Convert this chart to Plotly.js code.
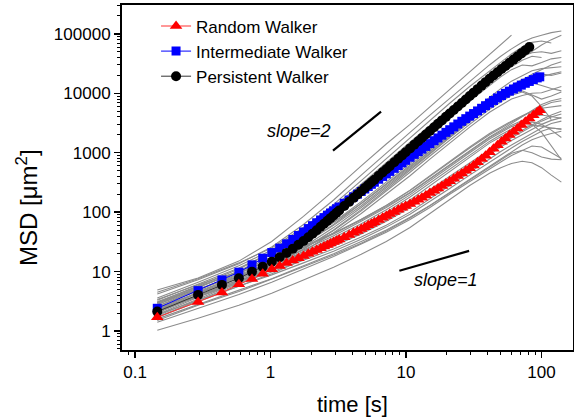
<!DOCTYPE html>
<html>
<head>
<meta charset="utf-8">
<script src="https://cdn.plot.ly/plotly-3.0.1.min.js"></script>
<style>html,body{margin:0;padding:0;background:#fff;}#chart{width:574px;height:418px;}</style>
</head>
<body>
<div id="chart"></div>
<script>
// ---- marker series (time in s, MSD in um^2) ----
const tMark = [0.146,0.292,0.438,0.584,0.73,0.876,1.022,1.168,1.314,1.46,1.606,1.752,
1.9,2.04,2.19,2.34,2.48,2.63,2.77,2.92,3.07,3.21,
3.5,3.8,4.1,4.38,4.67,4.96,5.26,5.55,5.84,
6.28,6.72,7.15,7.59,8.18,8.76,9.34,9.93,
10.7,11.5,12.3,13.1,14.0,15.0,16.1,17.2,18.4,19.7,21.0,
22.5,24.1,25.8,27.6,29.5,31.5,33.7,36.1,38.6,41.3,44.2,47.3,50.6,54.1,57.9,62.0,66.3,70.9,75.9,81.2,86.9,92.9,97.0];

const randomMSD = [1.70,3.08,4.43,6.1,7.5,9.2,10.9,12.4,13.9,15.3,16.8,18.3,
19.9,21.5,23.1,24.8,26.4,28.1,29.7,31.3,33.0,34.6,
37.9,41.3,44.8,48.1,51.9,55.8,59.9,63.9,67.9,
74.1,80.3,86.4,92.7,101,110,119,127,
137,149,162,175,191,209,230,251,276,303,332,
366,404,447,495,550,612,690,784,893,1021,1167,1334,1525,1737,1981,2258,2568,2916,3316,3763,4262,4814,5207];

const intermediateMSD = [2.41,4.78,7.24,9.77,12.97,16.8,20.9,24.8,29.3,34.7,40.4,46.4,
52.9,59.2,66.3,73.8,80.9,88.9,96.6,105,114,122,
141,160,181,201,223,245,270,294,319,
358,399,440,485,546,610,675,745,
838,939,1043,1151,1277,1423,1594,1772,1974,2202,2439,
2724,3041,3380,3740,4133,4560,5046,5594,6185,6846,7578,8361,9158,9990,10874,11804,12751,13728,14747,15829,16997,18170,18931];

const persistentMSD = [2.12,4.05,5.97,7.74,9.89,12.1,14.6,17.4,20.6,24.2,28.2,32.7,
37.8,43.2,49.6,56.6,63.6,71.5,79.3,88.1,97.4,106.5,
126.6,149,174,198,225,254,286,318,352,
408,467,528,595,692,793,902,1019,
1183,1367,1564,1774,2026,2326,2680,3059,3501,4013,4560,
5235,6006,6883,7877,8999,10261,11744,13476,15409,17583,20002,22675,25604,28882,32634,36909,41648,46996,53129,59993];

// ---- individual cell trajectories (gray) ----
const grayTime = [0.146,0.292,0.584,1.02,1.75,2.92,4.67,7.15,10.7,15.0,21.0,29.5,41.3,50,60,72,85,100,118,140];
const individualMSD = [
[4.9,7.8,15,32,85,230,600,1400,3000,5900,11500,23000,45000,66000,95000],
[4.2,7.3,13.5,26,62,160,420,1000,2200,4300,8300,16000,30000,42000,56000,72000,85000,95000,105000,112000],
[3.6,6.6,12.5,23,52,135,340,800,1800,3500,6800,13000,24000,34000,46000,60000,72000,76000,70000],
[3.0,5.8,11,21,47,118,290,680,1500,2900,5600,10500,19000,26000,34000,42000,48000,50000,47000,52000],
[2.8,5.4,10.2,19.5,42,100,240,560,1250,2400,4500,8500,15500,21000,28000,36000,42000,40000],
[3.3,6.2,11.5,21,44,98,230,520,1100,2100,4000,7500,13500,19000,25000,30000,29000,33000,38000,40000],
[4.5,7.6,14,25,55,125,290,650,1400,2600,4800,8800,16000,22000,30000,40000,52000,65000,80000,95000],
[2.2,4.3,8.0,14.5,29,62,140,300,620,1150,2100,3800,7000,9800,13500,17000,19500,21000,20000,22000],
[2.0,3.9,7.3,13,26,55,120,260,540,1000,1850,3400,6300,8800,12000,14500,15000,13500,12000,11000],
[2.6,5.0,9.2,16.5,32,68,150,320,660,1250,2400,4500,8500,12000,16000,20000,24000,26000,27000,28000],
[1.8,3.5,6.6,12,24,50,110,240,500,950,1800,3300,6000,8000,10000,11000,9500,8000,9000,10500],
[2.3,4.5,8.4,15,29,60,128,270,560,1050,1950,3600,6500,9000,12500,16500,21000,25000,30000,34000],
[1.9,3.7,6.9,12.5,24,49,105,225,470,880,1650,3000,5400,7200,9300,10500,9000,6000,3600],
[2.9,5.5,10,17.5,33,67,140,290,580,1050,1900,3400,6000,8000,10000,12500,16000,19000,21000,23000],
[1.7,3.3,6.2,11.3,22,45,95,200,410,780,1450,2700,4800,6300,8000,9200,10000,10200,11500,13000],
[1.03,1.64,2.7,4.3,7.2,11.8,19.5,32,55,95,165,280,450,560,660,720,680,560,420,320],
[1.4,2.4,4.1,6.6,11,18,29,46,75,120,200,330,540,700,900,1100,1300,1250,1000,800],
[1.6,2.8,4.8,7.6,12.5,20,32,50,82,130,215,360,600,800,1050,1350,1650,1900,2100,2300],
[1.5,2.7,4.6,7.4,12,19,30,48,80,128,210,350,580,760,980,1100,1000,850,780,760],
[1.9,3.3,5.6,8.8,14,22,35,56,92,150,250,420,700,920,1200,1550,1900,2300,2600,2500],
[2.2,3.8,6.3,9.8,15.5,24,38,60,100,165,280,470,800,1050,1350,1700,2100,2600,3100,3400],
[2.5,4.3,7.1,11,17.5,27,43,70,118,195,330,560,950,1250,1600,2000,2500,3000,3500,3900],
[2.3,4.0,6.7,10.5,17,27,44,73,125,210,360,620,1050,1380,1780,2250,2800,3400,4000,4500],
[3.0,5.1,8.4,13,20,32,52,85,145,240,400,680,1150,1500,1900,2400,3000,3600,4300,5000],
[2.6,4.7,8.2,13.5,23,40,70,120,210,360,620,1050,1800,2300,2900,3500,4000,4300,4100,3800],
[2.1,3.8,6.7,11,19,33,58,100,180,310,540,920,1550,2000,2500,3000,3300,3000,2400,1800],
[3.1,5.6,9.6,15.5,26,44,76,130,230,400,700,1200,2000,2600,3300,4100,5000,6000,7000,7500],
[1.7,3.1,5.5,9.2,16,28,50,88,160,280,490,850,1450,1850,2300,2700,2900,2800,2600,2500],
[3.4,6.0,10,16,26.5,44,74,125,215,370,640,1100,1850,2400,3100,4000,5200,6500,7500,8200],
[2.4,4.4,7.7,12.7,21.5,37,64,110,195,340,590,1000,1700,2200,2750,3200,3000,2200,1300,760],
[2.8,5.0,8.8,14.5,25,43,75,130,235,415,730,1250,2100,2700,3400,4200,5000,5600,5900,6200]
];

// ---- guide lines ----
const slope2T = [2.89, 6.54];
const slope2MSD = [1085, 4930];
const slope1T = [8.93, 29.2];
const slope1MSD = [10.3, 22.3];

// ---- tick labels ----
const xTickVals = [0.1, 1, 10, 100];
const xTickText = ['0.1', '1', '10', '100'];
const yTickVals = [1, 10, 100, 1000, 10000, 100000];
const yTickText = ['1', '10', '100', '1000', '10000', '100000'];

function minorTicks(e0, e1) {
  const out = [];
  for (let e = e0; e <= e1; e++) for (let d = 2; d <= 9; d++) out.push(d * Math.pow(10, e));
  return out;
}

const FONT = 'Arial, "Liberation Sans", sans-serif';
const traces = [];

individualMSD.forEach(arr => {
  traces.push({x: grayTime.slice(0, arr.length), y: arr, mode: 'lines', showlegend: false, hoverinfo: 'skip',
    line: {color: '#8c8c8c', width: 1.1}});
});

traces.push({x: tMark, y: intermediateMSD, mode: 'lines+markers', name: 'Intermediate Walker',
  line: {color: '#0000ff', width: 1}, marker: {symbol: 'square', size: 9, color: '#0000ff'}, legendrank: 2});
traces.push({x: tMark.slice(0, persistentMSD.length), y: persistentMSD, mode: 'lines+markers', name: 'Persistent Walker',
  line: {color: '#333333', width: 1}, marker: {symbol: 'circle', size: 10, color: '#000000'}, legendrank: 3});
traces.push({x: tMark, y: randomMSD, mode: 'lines+markers', name: 'Random Walker',
  line: {color: '#ff3030', width: 1}, marker: {symbol: 'triangle-up', size: 11, color: '#ff0000'}, legendrank: 1});

traces.push({x: slope2T, y: slope2MSD, mode: 'lines', showlegend: false, line: {color: '#000', width: 2.2}});
traces.push({x: slope1T, y: slope1MSD, mode: 'lines', showlegend: false, line: {color: '#000', width: 2.2}});

const axisCommon = {
  type: 'log', showgrid: false, zeroline: false,
  showline: true, linecolor: '#000', linewidth: 2, mirror: true,
  ticks: 'outside', ticklen: 6, tickwidth: 1.5, tickcolor: '#000',
  tickfont: {family: FONT, size: 17, color: '#000'},
  tickmode: 'array'
};

const layout = {
  width: 574, height: 418,
  margin: {l: 122, r: 1, t: 5, b: 68},
  paper_bgcolor: '#fff', plot_bgcolor: '#fff',
  font: {family: FONT, color: '#000'},
  showlegend: true,
  legend: {x: 0.0755, y: 0.99, xanchor: 'left', yanchor: 'top', bgcolor: 'rgba(0,0,0,0)',
    font: {family: FONT, size: 17, color: '#000'}, tracegroupgap: 0, itemwidth: 30},
  xaxis: Object.assign({}, axisCommon, {
    range: [-1.096, 2.232], tickvals: xTickVals, ticktext: xTickText,
    minor: {tickmode: 'array', tickvals: minorTicks(-2, 2), ticks: 'outside', ticklen: 3, tickwidth: 1, tickcolor: '#000'}
  }),
  yaxis: Object.assign({}, axisCommon, {
    range: [-0.32, 5.486], tickvals: yTickVals, ticktext: yTickText,
    minor: {tickmode: 'array', tickvals: minorTicks(-1, 5), ticks: 'outside', ticklen: 3, tickwidth: 1, tickcolor: '#000'}
  }),
  annotations: [
    {xref: 'paper', yref: 'paper', x: 0.392, y: 0.636, text: '<i>slope=2</i>', showarrow: false,
      font: {family: FONT, size: 18, color: '#000'}, xanchor: 'center', yanchor: 'middle'},
    {xref: 'paper', yref: 'paper', x: 0.718, y: 0.203, text: '<i>slope=1</i>', showarrow: false,
      font: {family: FONT, size: 18, color: '#000'}, xanchor: 'center', yanchor: 'middle'},
    {xref: 'paper', yref: 'paper', x: 0.512, y: -0.157, text: 'time [s]', showarrow: false,
      font: {family: FONT, size: 22, color: '#000'}, xanchor: 'center', yanchor: 'middle'},
    {xref: 'paper', yref: 'paper', x: -0.2106, y: 0.412, text: 'MSD [μm<sup>2</sup>]', showarrow: false, textangle: -90,
      font: {family: FONT, size: 24, color: '#000'}, xanchor: 'center', yanchor: 'middle'}
  ]
};

Plotly.newPlot('chart', traces, layout, {staticPlot: true, displayModeBar: false});
</script>
</body>
</html>
